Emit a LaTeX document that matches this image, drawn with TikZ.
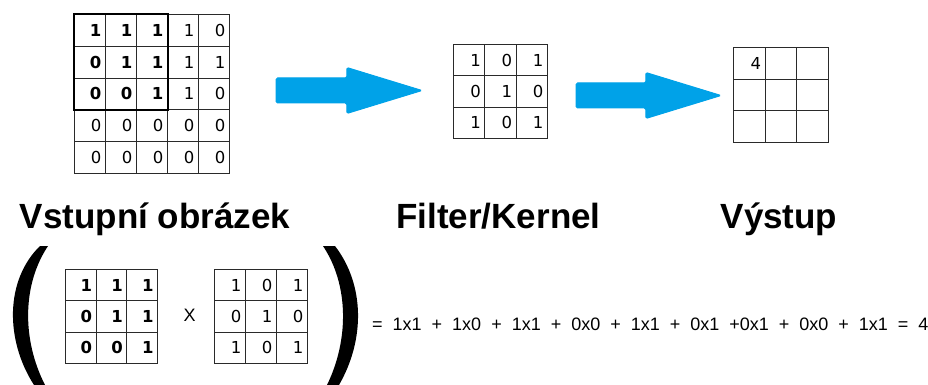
\documentclass[tikz,border=0pt]{standalone}
\usepackage{fontspec}
\setmainfont{Liberation Sans}
\newfontfamily\digitfont{DejaVu Sans}
\usetikzlibrary{shapes.arrows}
\definecolor{arrblue}{HTML}{00A2E8}
\definecolor{gridline}{HTML}{2A2A2A}

\begin{document}
\begin{tikzpicture}[
  x=1pt, y=-1pt,
  cell/.style={draw=gridline, line width=0.9pt, anchor=north west, inner xsep=4pt, inner ysep=0pt, text width=23pt, align=right, minimum height=31.5pt, font=\digitfont\fontsize{16.5}{20}\selectfont},
  bigarrow/.style={single arrow, fill=arrblue, draw=arrblue, line width=1pt, rounded corners=1.5pt, inner sep=0pt, single arrow head extend=10.5pt, single arrow tip angle=34, anchor=tail},
  title/.style={anchor=base, inner sep=0pt, font=\fontsize{35}{40}\selectfont\bfseries},
  paren/.style={fill=black},
]
\useasboundingbox (0,0) rectangle (928,385);
% input image, 5x5
\foreach \row [count=\r] in {{\textbf{1},\textbf{1},\textbf{1},1,0},{\textbf{0},\textbf{1},\textbf{1},1,1},{\textbf{0},\textbf{0},\textbf{1},1,0},{0,0,0,0,0},{0,0,0,0,0}}
  \foreach \v [count=\c] in \row
    \node[cell, minimum height=31.8pt] (in-\r-\c) at ({74+31*(\c-1)},{14+31.8*(\r-1)}) {\v};
\draw[line width=2.4pt] (in-1-1.north west) rectangle (in-3-3.south east);
% filter
\foreach \row [count=\r] in {{1,0,1},{0,1,0},{1,0,1}}
  \foreach \v [count=\c] in \row
    \node[cell, text width=23.3pt] (ker-\r-\c) at ({453+31.3*(\c-1)},{44+31.3*(\r-1)}) {\v};
% output
\foreach \row [count=\r] in {{4,{},{}},{{},{},{}},{{},{},{}}}
  \foreach \v [count=\c] in \row
    \node[cell, text width=23.7pt, minimum height=31.7pt] (out-\r-\c) at ({733+31.7*(\c-1)},{47+31.7*(\r-1)}) {\v};
% blue arrows between the grids
\node[bigarrow, minimum height=146pt] (arr1) at (275.5,90.5) {\rule{0pt}{24pt}};
\node[bigarrow, minimum height=145pt] (arr2) at (575.5,95.5) {\rule{0pt}{24pt}};
% titles
\node[title] (t-in) at (155,228) {Vstupní obrázek};
\node[title] (t-ker) at (498.5,228) {Filter/Kernel};
\node[title] (t-out) at (779,228) {Výstup};
% big brackets
\fill[paren] (40,246) -- (48,246) .. controls (22,285) and (22,340) .. (45,385) -- (34,385) .. controls (5,340) and (5,280) .. (40,246) -- cycle;
\fill[paren] (323,246) -- (335,246) .. controls (365,285) and (365,340) .. (339,385) -- (327,385) .. controls (349,340) and (349,285) .. (323,246) -- cycle;
% patch of the image times the filter
\foreach \row [count=\r] in {{1,1,1},{0,1,1},{0,0,1}}
  \foreach \v [count=\c] in \row
    \node[cell, text width=22.7pt, minimum height=31.3pt] (pa-\r-\c) at ({65+30.7*(\c-1)},{269+31.3*(\r-1)}) {\textbf{\v}};
\node[font=\fontsize{18}{20}\selectfont, inner sep=0pt] (times) at (189.5,315.5) {X};
\foreach \row [count=\r] in {{1,0,1},{0,1,0},{1,0,1}}
  \foreach \v [count=\c] in \row
    \node[cell, text width=23pt, minimum height=31.3pt] (kb-\r-\c) at ({214+31*(\c-1)},{269+31.3*(\r-1)}) {\v};
% the sum
\node[anchor=base west, inner sep=0pt, font=\fontsize{18}{20}\selectfont] (sum) at (372,330) {\spaceskip=10pt = 1x1 + 1x0 + 1x1 + 0x0 + 1x1 + 0x1 +0x1 + 0x0 + 1x1 = 4};
\end{tikzpicture}
\end{document}
